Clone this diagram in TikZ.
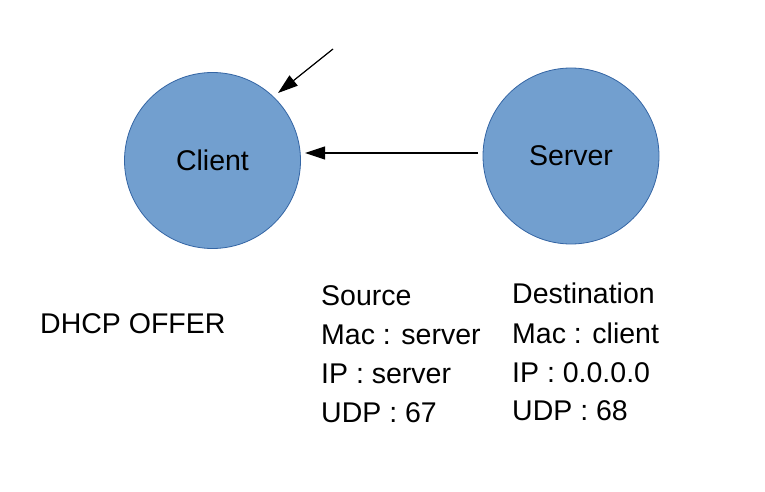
\documentclass[tikz,border=0pt]{standalone}
\usepackage{fontspec}
\setmainfont{Liberation Sans}
\usetikzlibrary{arrows.meta}
\definecolor{hostfill}{RGB}{114,159,207}
\definecolor{hostline}{RGB}{52,101,164}
\begin{document}
\begin{tikzpicture}[x=1pt,y=-1pt,
  host/.style={circle,draw=hostline,line width=0.8pt,fill=hostfill,minimum size=176pt,inner sep=0pt},
  lbl/.style={anchor=base west,inner sep=0pt,font=\fontsize{28.5}{34}\selectfont},
  conn/.style={line width=1.2pt,-{Triangle[length=20pt,width=13pt]}}]
\useasboundingbox (0,0) rectangle (765,492);
\node[host] (client) at (212.5,160.5) {};
\node[anchor=base,inner sep=0pt] (clienttxt) at (212.5,170) {\fontsize{28.5}{34}\selectfont Client};
\node[host] (server) at (571,156) {};
\node[anchor=base,inner sep=0pt] (servertxt) at (571,165) {\fontsize{28.5}{34}\selectfont Server};
\coordinate (s1) at (333,49);
\coordinate (e1) at (278,93);
\coordinate (s2) at (478,153);
\coordinate (e2) at (305,153);
\draw[conn] (s1) -- (e1);
\draw[conn] (s2) -- (e2);
\node[lbl] (offer) at (40,333) {DHCP OFFER};
\node[lbl] (src1) at (321,305) {Source};
\node[lbl] (src2) at (321,344) {Mac : server};
\node[lbl] (src3) at (321,383) {IP : server};
\node[lbl] (src4) at (321,422) {UDP : 67};
\node[lbl] (dst1) at (512,303) {Destination};
\node[lbl] (dst2) at (512,343) {Mac : client};
\node[lbl] (dst3) at (512,382) {IP : 0.0.0.0};
\node[lbl] (dst4) at (512,420) {UDP : 68};
\end{tikzpicture}
\end{document}
